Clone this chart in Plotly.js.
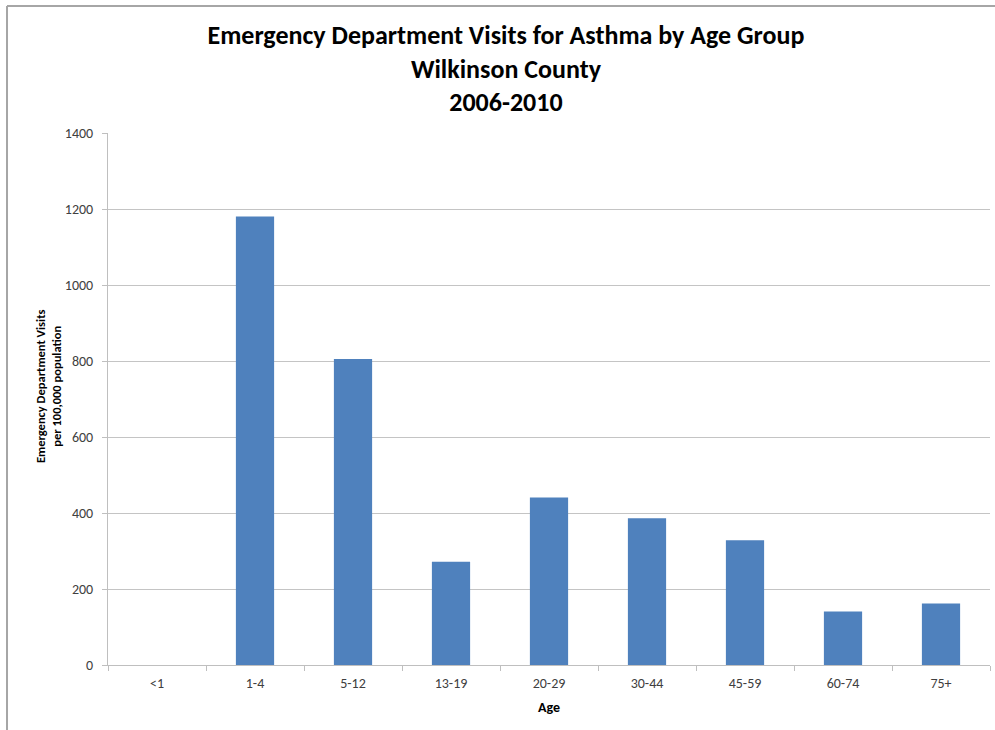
<!DOCTYPE html>
<html>
<head>
<meta charset="utf-8">
<script src="https://cdn.plot.ly/plotly-3.0.1.min.js"></script>
<style>
html,body{margin:0;padding:0;background:#fff;}
#chart{width:995px;height:730px;}
</style>
</head>
<body>
<div id="chart"></div>
<script>
var categories = ["<1", "1-4", "5-12", "13-19", "20-29", "30-44", "45-59", "60-74", "75+"];
var visitsPer100k = [0, 1180, 805, 272, 441, 386, 328, 141, 162];
var yTickValues = [0, 200, 400, 600, 800, 1000, 1200, 1400];

var titleText = "Emergency Department Visits for Asthma by Age Group<br>Wilkinson County<br>2006-2010";
var yTitleText = "Emergency Department Visits<br>per 100,000 population";
var xTitleText = "Age";

var FONT = "Carlito, Calibri, 'Liberation Sans Narrow', 'Liberation Sans', Arial, sans-serif";

var trace = {
  type: "bar",
  x: categories,
  y: visitsPer100k,
  marker: {color: "#4f81bd", line: {width: 0}},
  hoverinfo: "x+y"
};

var layout = {
  width: 995,
  height: 730,
  paper_bgcolor: "#ffffff",
  plot_bgcolor: "#ffffff",
  margin: {l: 108, r: 5, t: 133, b: 65},
  bargap: 0.61,
  showlegend: false,
  font: {family: FONT, color: "#404040"},
  title: {
    text: titleText,
    font: {family: FONT, size: 26, color: "#000000", weight: "bold"},
    xref: "container",
    x: 0.5085,
    xanchor: "center",
    yref: "container",
    y: 0.94,
    yanchor: "top"
  },
  xaxis: {
    type: "category",
    showline: true,
    linecolor: "#bfbfbf",
    linewidth: 1,
    ticks: "outside",
    tickson: "boundaries",
    ticklen: 5,
    tickcolor: "#bfbfbf",
    showgrid: false,
    tickfont: {family: FONT, size: 14, color: "#404040"},
    ticklabelstandoff: 5,
    title: {text: xTitleText, font: {family: FONT, size: 14, color: "#000000", weight: "bold"}, standoff: 11}
  },
  yaxis: {
    range: [0, 1400],
    tickvals: yTickValues,
    showline: true,
    linecolor: "#bfbfbf",
    linewidth: 1,
    ticks: "outside",
    ticklen: 5,
    tickcolor: "#bfbfbf",
    showgrid: true,
    gridcolor: "#c4c4c4",
    gridwidth: 1,
    zeroline: false,
    tickfont: {family: FONT, size: 14, color: "#404040"},
    ticklabelstandoff: 6
  },
  annotations: [
    {
      text: yTitleText,
      xref: "paper", yref: "paper",
      x: -0.068, y: 0.5244,
      xanchor: "center", yanchor: "middle",
      textangle: -90,
      showarrow: false,
      align: "center",
      font: {family: FONT, size: 12.5, color: "#000000", weight: "bold"}
    }
  ],
  shapes: [
    {type: "line", xref: "paper", yref: "paper", x0: -0.1145, x1: -0.1145, y0: -0.2, y1: 1.2387, line: {color: "#a6a6a6", width: 2}},
    {type: "line", xref: "paper", yref: "paper", x0: -0.1145, x1: 1.01, y0: 1.2387, y1: 1.2387, line: {color: "#a6a6a6", width: 2}}
  ]
};

Plotly.newPlot("chart", [trace], layout, {displayModeBar: false, responsive: false});
</script>
</body>
</html>
